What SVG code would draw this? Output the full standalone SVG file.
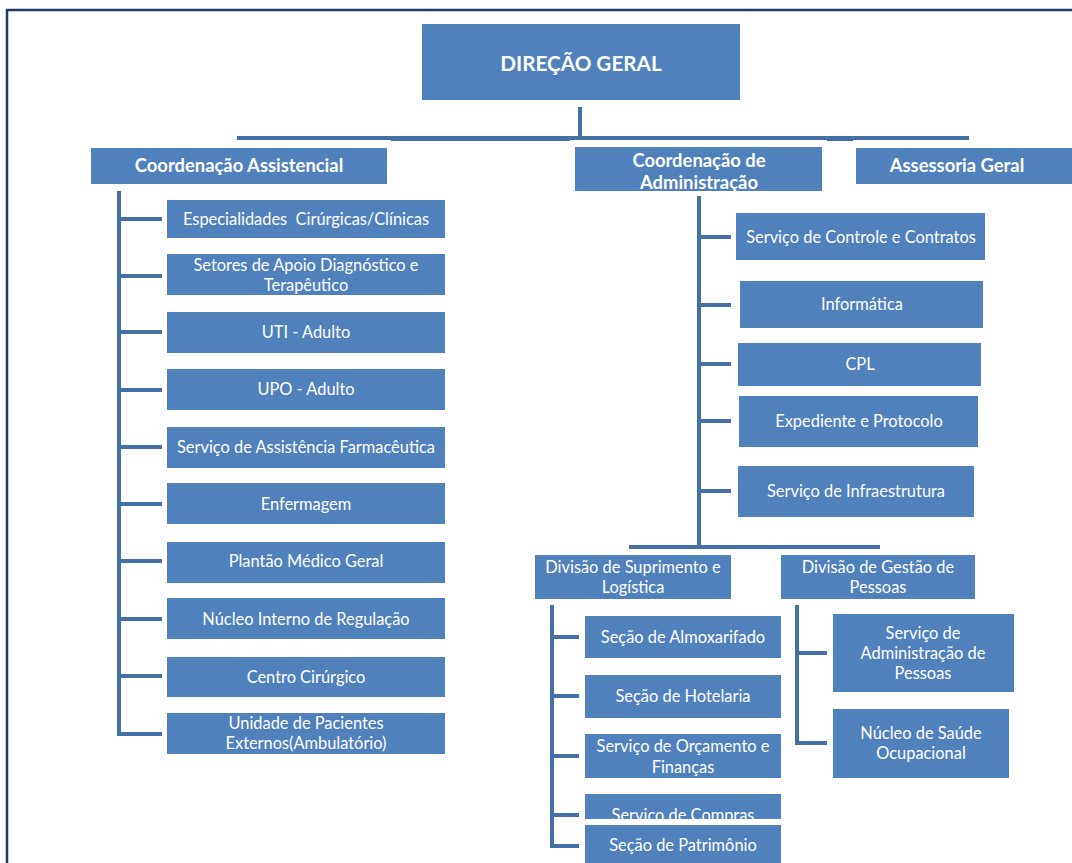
<svg xmlns="http://www.w3.org/2000/svg" width="1072" height="863" viewBox="0 0 1072 863">
<style>
.box{fill:#4F81BD}
.t{font-family:Lato,"Open Sans","Liberation Sans",sans-serif;font-size:16.4px;fill:#FFFFFF;text-anchor:middle}
.h{font-family:Lato,"Open Sans","Liberation Sans",sans-serif;font-size:18.4px;font-weight:bold;fill:#FFFFFF;text-anchor:middle}
.c{stroke:#4470A6;stroke-width:4;fill:none}
</style>
<defs>
<clipPath id="clipCompras"><rect x="585" y="794" width="196" height="25"/></clipPath>
</defs>
<rect x="0" y="0" width="1072" height="863" fill="#FFFFFF"/>
<path d="M7 863 V10 H1072" fill="none" stroke="#1F3B6A" stroke-width="2.5"/>

<g id="connectors">
<path class="c" d="M580 107 V138"/>
<path class="c" d="M237 138 H969"/>
<rect x="391" y="138" width="179" height="3" fill="#4470A6"/>
<rect x="827" y="138" width="26" height="3" fill="#4470A6"/>
<path class="c" d="M119 191 V736 M117 219 H162 M117 276 H162 M117 332 H162 M117 390 H162 M117 447 H162 M117 504 H162 M117 561 H162 M117 619 H162 M117 676 H162 M117 734 H162"/>
<path class="c" d="M699 196 V547 M697 237 H731 M697 305 H731 M697 364 H731 M697 421 H731 M697 491 H731"/>
<path class="c" d="M629 547 H880"/>
<path class="c" d="M552 605 V848 M550 637 H579 M550 696 H579 M550 756 H579 M550 815 H579 M550 846 H579"/>
<path class="c" d="M797 605 V743 M795 653 H827 M795 743 H827"/>
</g>

<g id="direcao-geral"><rect class="box" x="422" y="24" width="318" height="76"/><text class="h" x="581" y="71" style="font-size:20.7px">DIREÇÃO GERAL</text></g>

<g id="coord-assistencial"><rect class="box" x="91" y="148" width="296" height="36"/><text class="h" x="239" y="172">Coordenação Assistencial</text></g>
<g id="coord-administracao"><rect class="box" x="575" y="147" width="247" height="44"/><text class="h" x="699" y="167">Coordenação de</text><text class="h" x="699" y="189">Administração</text></g>
<g id="assessoria-geral"><rect class="box" x="856" y="148" width="216" height="36"/><text class="h" x="957" y="172">Assessoria Geral</text></g>

<g id="especialidades"><rect class="box" x="167" y="200" width="278" height="38"/><text class="t" x="306" y="225" xml:space="preserve">Especialidades  Cirúrgicas/Clínicas</text></g>
<g id="setores-apoio"><rect class="box" x="167" y="254" width="278" height="41"/><text class="t" x="306" y="271">Setores de Apoio Diagnóstico e</text><text class="t" x="306" y="291">Terapêutico</text></g>
<g id="uti-adulto"><rect class="box" x="167" y="312" width="278" height="41"/><text class="t" x="306" y="338">UTI - Adulto</text></g>
<g id="upo-adulto"><rect class="box" x="167" y="369" width="278" height="41"/><text class="t" x="306" y="395">UPO - Adulto</text></g>
<g id="assistencia-farmaceutica"><rect class="box" x="167" y="427" width="278" height="41"/><text class="t" x="306" y="453">Serviço de Assistência Farmacêutica</text></g>
<g id="enfermagem"><rect class="box" x="167" y="483" width="278" height="41"/><text class="t" x="306" y="510">Enfermagem</text></g>
<g id="plantao"><rect class="box" x="167" y="542" width="278" height="41"/><text class="t" x="306" y="567">Plantão Médico Geral</text></g>
<g id="nucleo-regulacao"><rect class="box" x="167" y="598" width="278" height="41"/><text class="t" x="306" y="625">Núcleo Interno de Regulação</text></g>
<g id="centro-cirurgico"><rect class="box" x="167" y="657" width="278" height="40"/><text class="t" x="306" y="683">Centro Cirúrgico</text></g>
<g id="pacientes-externos"><rect class="box" x="167" y="713" width="278" height="41"/><text class="t" x="306" y="729">Unidade de Pacientes</text><text class="t" x="306" y="749">Externos(Ambulatório)</text></g>

<g id="controle-contratos"><rect class="box" x="736" y="213" width="249" height="47"/><text class="t" x="861" y="243">Serviço de Controle e Contratos</text></g>
<g id="informatica"><rect class="box" x="740" y="281" width="243" height="47"/><text class="t" x="862" y="310">Informática</text></g>
<g id="cpl"><rect class="box" x="738" y="343" width="243" height="43"/><text class="t" x="860" y="370">CPL</text></g>
<g id="expediente"><rect class="box" x="739" y="396" width="239" height="51"/><text class="t" x="859" y="427">Expediente e Protocolo</text></g>
<g id="infraestrutura"><rect class="box" x="738" y="466" width="236" height="51"/><text class="t" x="856" y="497">Serviço de Infraestrutura</text></g>

<g id="div-suprimento"><rect class="box" x="535" y="555" width="196" height="44"/><text class="t" x="633" y="573">Divisão de Suprimento e</text><text class="t" x="633" y="593">Logística</text></g>
<g id="div-gestao-pessoas"><rect class="box" x="781" y="555" width="194" height="44"/><text class="t" x="878" y="573">Divisão de Gestão de</text><text class="t" x="878" y="593">Pessoas</text></g>

<g id="almoxarifado"><rect class="box" x="585" y="616" width="196" height="42"/><text class="t" x="683" y="643">Seção de Almoxarifado</text></g>
<g id="hotelaria"><rect class="box" x="585" y="675" width="196" height="43"/><text class="t" x="683" y="702">Seção de Hotelaria</text></g>
<g id="orcamento"><rect class="box" x="585" y="734" width="196" height="44"/><text class="t" x="683" y="752">Serviço de Orçamento e</text><text class="t" x="683" y="773">Finanças</text></g>
<g id="compras"><rect class="box" x="585" y="794" width="196" height="25"/><text class="t" x="683" y="821" clip-path="url(#clipCompras)">Serviço de Compras</text></g>
<g id="patrimonio"><rect class="box" x="585" y="825" width="196" height="38"/><text class="t" x="683" y="851">Seção de Patrimônio</text></g>

<g id="admin-pessoas"><rect class="box" x="833" y="614" width="181" height="78"/><text class="t" x="923" y="639">Serviço de</text><text class="t" x="923" y="659">Administração de</text><text class="t" x="923" y="679">Pessoas</text></g>
<g id="saude-ocupacional"><rect class="box" x="833" y="709" width="176" height="69"/><text class="t" x="921" y="739">Núcleo de Saúde</text><text class="t" x="921" y="759">Ocupacional</text></g>
</svg>
